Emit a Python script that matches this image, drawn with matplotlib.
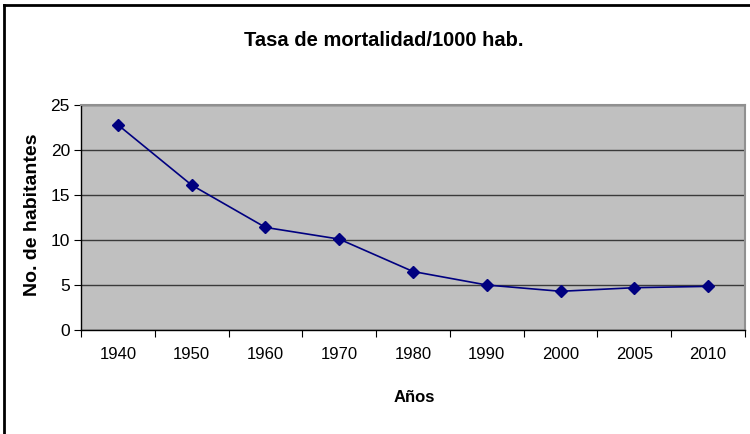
import matplotlib
matplotlib.use('Agg')
import matplotlib.pyplot as plt
from matplotlib.lines import Line2D

years = ['1940', '1950', '1960', '1970', '1980', '1990', '2000', '2005', '2010']
tasa = [22.8, 16.1, 11.4, 10.1, 6.5, 5.0, 4.3, 4.7, 4.85]
yticks = [0, 5, 10, 15, 20, 25]

plt.rcParams['font.family'] = ['Liberation Sans', 'DejaVu Sans']

fig = plt.figure(figsize=(7.5, 4.34), dpi=100)
ax = fig.add_axes([81/750, 104/434, 664/750, 225/434])
ax.set_facecolor('#c0c0c0')

x = list(range(len(years)))
ax.plot(x, tasa, color='#000080', marker='D', markersize=6.5, linewidth=1.2)

ax.set_xlim(-0.5, len(years) - 0.5)
ax.set_ylim(0, 25)
ax.set_yticks(yticks)
ax.set_yticklabels([str(v) for v in yticks], fontsize=12.5)
ax.set_xticks([i - 0.5 for i in range(len(years) + 1)], minor=False)
ax.set_xticklabels([])
ax.set_xticks(x, minor=True)
ax.set_xticklabels(years, minor=True, fontsize=12)
ax.tick_params(axis='x', which='minor', length=0, pad=12)
ax.tick_params(axis='x', which='major', direction='out', length=5, color='black')
ax.tick_params(axis='y', direction='out', length=5, pad=3)
ax.grid(axis='y', color='#3a3a3a', linewidth=1)
ax.set_axisbelow(True)

for s in ['top', 'right']:
    ax.spines[s].set_color('#909090')
    ax.spines[s].set_linewidth(1.5)
for s in ['left', 'bottom']:
    ax.spines[s].set_color('black')
    ax.spines[s].set_linewidth(1)

fig.text(384/750, 1 - 40/434, 'Tasa de mortalidad/1000 hab.', ha='center', va='center',
         fontsize=14.5, fontweight='bold')
fig.text(414/750, 1 - 398/434, 'Años', ha='center', va='center',
         fontsize=12, fontweight='bold')
fig.text(33/750, 1 - 215/434, 'No. de habitantes', ha='center', va='center', rotation=90,
         fontsize=14, fontweight='bold')

# marco exterior
fig.add_artist(Line2D([4/750, 4/750], [0, 1 - 5/434], color='black', linewidth=2, transform=fig.transFigure))
fig.add_artist(Line2D([4/750, 1], [1 - 5/434, 1 - 5/434], color='black', linewidth=2, transform=fig.transFigure))

fig.savefig('out.png', dpi=100)
